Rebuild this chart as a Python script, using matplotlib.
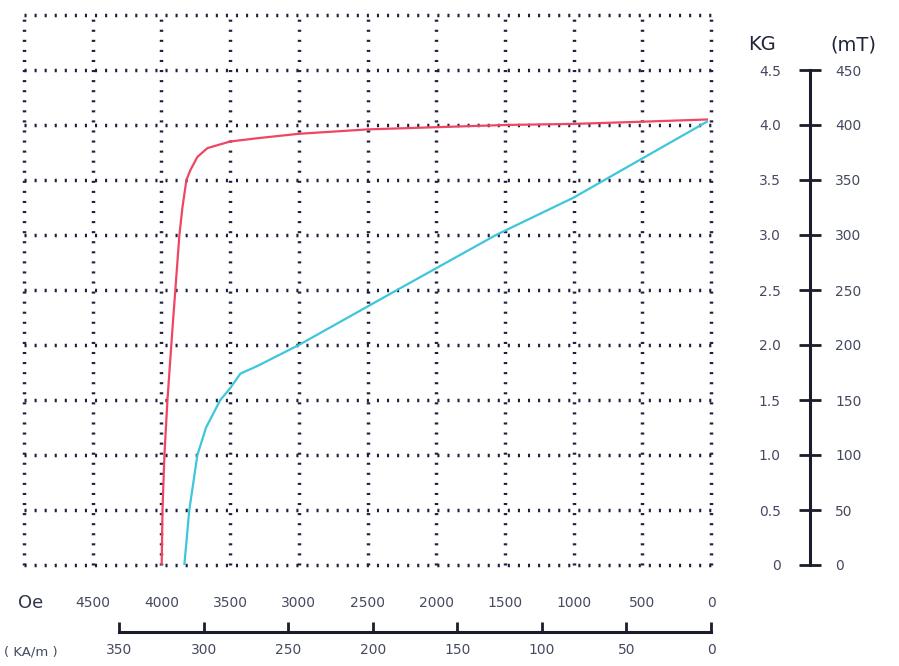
import matplotlib.pyplot as plt

# Demagnetization curves: H in Oe, B in mT
red_h = [30, 500, 1000, 1500, 2000, 2500, 3000, 3300, 3500, 3665, 3738, 3789, 3818, 3847, 3869, 3920, 3956, 3978, 3992, 3998]
red_b = [405, 403, 401, 400, 398, 396, 392, 388, 385, 379, 371, 359, 350, 325, 300, 214, 150, 100, 50, 0]

cyan_h = [30, 1000, 1565, 2285, 3000, 3300, 3425, 3498, 3571, 3675, 3738, 3797, 3833]
cyan_b = [403, 334, 300, 250, 200, 181, 174, 161, 150, 125, 100, 50, 0]

# Axis ticks / labels
oe_ticks = [5000, 4500, 4000, 3500, 3000, 2500, 2000, 1500, 1000, 500, 0]
oe_labels = ['', '4500', '4000', '3500', '3000', '2500', '2000', '1500', '1000', '500', '0']
kam_ticks = [350, 300, 250, 200, 150, 100, 50, 0]
mt_ticks = [0, 50, 100, 150, 200, 250, 300, 350, 400, 450]
kg_labels = ['0', '0.5', '1.0', '1.5', '2.0', '2.5', '3.0', '3.5', '4.0', '4.5']
mt_labels = ['0', '50', '100', '150', '200', '250', '300', '350', '400', '450']

OE_PER_KAM = 12.3  # as drawn on the scale
W, H = 899, 666
label_col = '#454a60'
grid_col = '#1c2140'
axis_col = '#1a1d2a'

fig = plt.figure(figsize=(W / 100, H / 100), dpi=100)
left, right, top, bottom = 24 / W, 711 / W, 1 - 15 / H, 1 - 565 / H
ax = fig.add_axes([left, bottom, right - left, top - bottom])

ax.plot(red_h, red_b, color='#ef4663', lw=1.6, zorder=3)
ax.plot(cyan_h, cyan_b, color='#3ec6da', lw=1.6, zorder=3)

ax.set_xlim(5000, 0)
ax.set_ylim(0, 500)
ax.set_xticks(oe_ticks)
ax.set_xticklabels(oe_labels)
ax.set_yticks(range(0, 501, 50))
ax.set_yticklabels([])
ax.tick_params(axis='both', length=0)
ax.tick_params(axis='x', pad=22, labelsize=10, labelcolor=label_col)
for s in ax.spines.values():
    s.set_visible(False)
ax.grid(True, color=grid_col, lw=2.5, linestyle=(0, (0.6, 2.3)))
for gl in ax.get_xgridlines() + ax.get_ygridlines():
    gl.set_clip_on(False)

fig.text(18 / W, 1 - 603 / H, 'Oe', fontsize=13, color='#30354a', va='center')
fig.text(4 / W, 1 - 652 / H, '( KA/m )', fontsize=9.5, color=label_col, va='center')

# kA/m scale under the plot
bax = fig.add_axes([left, 1 - 632 / H, right - left, 0.0001])
bax.set_xlim(5000 / OE_PER_KAM, 0)
bax.patch.set_visible(False)
for k in ['left', 'right', 'top']:
    bax.spines[k].set_visible(False)
bax.spines['bottom'].set_bounds(0, 350)
bax.spines['bottom'].set_linewidth(2.2)
bax.spines['bottom'].set_color(axis_col)
bax.set_yticks([])
bax.set_xticks(kam_ticks)
bax.tick_params(axis='x', direction='in', length=7, width=2, color=axis_col,
                pad=8, labelsize=10, labelcolor=label_col)

# KG / mT scale on the right
rax = fig.add_axes([810 / W, bottom, 0.0001, top - bottom])
rax.set_ylim(0, 500)
rax.patch.set_visible(False)
for k in ['right', 'top', 'bottom']:
    rax.spines[k].set_visible(False)
rax.spines['left'].set_bounds(0, 450)
rax.spines['left'].set_linewidth(2.2)
rax.spines['left'].set_color(axis_col)
rax.set_xticks([])
rax.set_yticks(mt_ticks)
rax.set_yticklabels(kg_labels)
rax.tick_params(axis='y', direction='inout', length=16, width=2, color=axis_col,
                pad=13, labelsize=10, labelcolor=label_col)

tax = rax.twinx()
tax.set_ylim(0, 500)
for s in tax.spines.values():
    s.set_visible(False)
tax.set_yticks(mt_ticks)
tax.set_yticklabels(mt_labels)
tax.tick_params(axis='y', length=0, pad=18, labelsize=10, labelcolor=label_col)

fig.text(762 / W, 1 - 45 / H, 'KG', fontsize=14, color='#20243a', ha='center', va='center')
fig.text(853 / W, 1 - 45 / H, '(mT)', fontsize=14, color='#20243a', ha='center', va='center')

fig.savefig('out.png', dpi=100)
